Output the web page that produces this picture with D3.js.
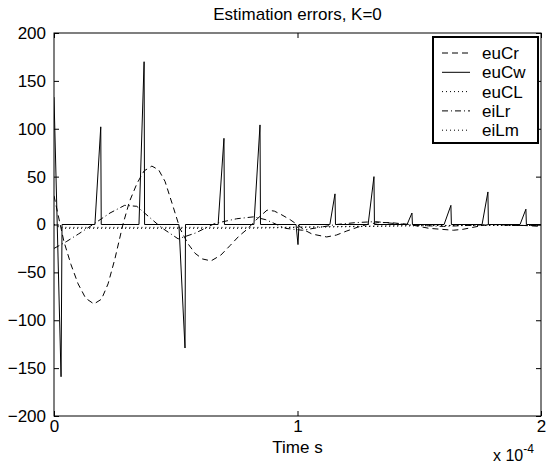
<!DOCTYPE html>
<html><head><meta charset="utf-8">
<script src="https://cdn.jsdelivr.net/npm/d3@7"></script>
<style>body{margin:0;background:#fff}svg{display:block}text{font-family:"Liberation Sans",Arial,sans-serif;fill:#000}</style>
</head><body><svg id="c" width="557" height="466"></svg>
<script>
// time values are in units of 1e-5 s
const xTicks = [0, 1, 2];               // displayed as x 10^-4
const yTicks = [-200,-150,-100,-50,0,50,100,150,200];
const seriesNames = ["euCr","euCw","euCL","eiLr","eiLm"];

const tCr  = [0,0.16,0.41,0.7,0.99,1.3,1.64,1.95,2.22,2.5,2.83,3.1,3.41,3.7,4.02,4.3,4.56,4.85,5.17,5.5,5.79,6.1,6.45,6.85,7.23,7.6,7.93,8.35,8.75,9.05,9.36,9.7,9.98,10.3,10.6,11.2,11.6,12.0,12.45,12.85,13.3,13.8,14.2,14.6,15.0,15.4,15.9,16.4,16.8,17.2,17.6,17.9,18.3,18.7,19.3,20];
const euCr = [30,11,-18,-42,-62,-77,-83,-78,-62,-36,0,24,43,56,61,57,45,22,-4,-20,-30,-36,-38,-32,-22,-12,-5,6,15,14,10,5,0,-6,-10,-13,-11,-7,-3,0,2,2,1,0,-2,-4,-5,-6,-5,-3,-1,0,0,-1,-1,-2];

const tCw  = [0,0.29,0.33,1.68,1.92,1.94,3.49,3.70,3.72,5.13,5.38,5.40,6.74,6.98,7.0,8.21,8.46,8.48,9.94,10.02,10.06,11.33,11.54,11.56,12.9,13.14,13.16,14.5,14.7,14.72,16.02,16.3,16.32,17.58,17.82,17.84,19.14,19.38,19.4,20];
const euCw = [133,-159,0,0,102,0,0,170,0,0,-129,0,0,90,0,0,104,0,0,-21,0,0,32,0,0,50,0,0,12,0,0,20,0,0,34,0,0,16,0,0];

const tCL  = [0,0.3,4,8,10,13,16,20];
const euCL = [0,-4,-4,-4,-3,-2,-1,-1];

const tLr  = [0,0.5,1.0,1.6,2.3,2.9,3.4,3.9,4.4,5.1,5.8,6.6,7.5,8.2,8.7,9.5,10.2,10.9,11.6,12.4,13.2,14.0,15.0,16.0,17.0,18.0,19.0,20];
const eiLr = [-25,-18,-10,0,12,20,19,8,-3,-15,-9,1,6,8,5,-4,-6,-3,0,2,3,1,-1,-2,-1,0,-1,-1];

const tLm  = [0,0.3,5,9,12,15,18,20];
const eiLm = [0,-3,-3,-3,-2,-1,-1,-1];

const L=54, R=541, T=33, B=416;
const FS = 17;
const svg = d3.select("#c");
const x = d3.scaleLinear().domain([0,20]).range([L,R]);
const y = d3.scaleLinear().domain([-200,200]).range([B,T]);

const styles = {
  euCr:"6,4", euCw:null, euCL:"1,3", eiLr:"6,3,1,3", eiLm:"1,3"
};
const data = {
  euCr: d3.zip(tCr, euCr), euCw: d3.zip(tCw, euCw), euCL: d3.zip(tCL, euCL),
  eiLr: d3.zip(tLr, eiLr), eiLm: d3.zip(tLm, eiLm)
};

svg.append("clipPath").attr("id","clip").append("rect").attr("x",L).attr("y",T).attr("width",R-L).attr("height",B-T);
const line = d3.line().x(d=>x(d[0])).y(d=>y(d[1]));
const g = svg.append("g").attr("clip-path","url(#clip)");
seriesNames.forEach(n=>{
  g.append("path").attr("d",line(data[n])).attr("fill","none").attr("stroke","#000")
   .attr("stroke-width",1).attr("stroke-dasharray",styles[n]);
});

// axes
const axB = d3.axisBottom(x).tickValues(xTicks.map(v=>v*10)).tickSize(-5).tickPadding(4).tickFormat((d,i)=>xTicks[i]);
const axL = d3.axisLeft(y).tickValues(yTicks).tickSize(-5).tickPadding(8);
const axT = d3.axisTop(x).tickValues(xTicks.map(v=>v*10)).tickSize(-5).tickFormat("");
const axR = d3.axisRight(y).tickValues(yTicks).tickSize(-5).tickFormat("");
function st(s){ s.selectAll(".domain").remove(); s.selectAll("line").attr("stroke","#000"); s.selectAll("text").attr("font-size",FS).attr("font-family","Liberation Sans, Arial, sans-serif"); }
svg.append("g").attr("transform",`translate(0,${B})`).call(axB).call(st);
svg.append("g").attr("transform",`translate(${L},0)`).call(axL).call(st);
svg.append("g").attr("transform",`translate(0,${T})`).call(axT).call(st);
svg.append("g").attr("transform",`translate(${R},0)`).call(axR).call(st);
svg.append("rect").attr("x",L).attr("y",T).attr("width",R-L).attr("height",B-T).attr("fill","none").attr("stroke","#000").attr("stroke-width",1);

svg.append("text").attr("x",(L+R)/2).attr("y",20).attr("text-anchor","middle").attr("font-size",FS).text("Estimation errors, K=0");
svg.append("text").attr("x",(L+R)/2).attr("y",453).attr("text-anchor","middle").attr("font-size",FS).text("Time s");
const ex = svg.append("text").attr("x",493).attr("y",461).attr("font-size",16);
ex.append("tspan").text("x 10");
ex.append("tspan").attr("dy",-8).attr("font-size",12).text("-4");

// legend
const lg = svg.append("g");
lg.append("rect").attr("x",433).attr("y",37).attr("width",105).attr("height",106).attr("fill","#fff").attr("stroke","#000").attr("stroke-width",2);
seriesNames.forEach((n,i)=>{
  const yy = 53 + i*19.3;
  lg.append("line").attr("x1",442).attr("x2",470).attr("y1",yy).attr("y2",yy).attr("stroke","#000").attr("stroke-dasharray",styles[n]);
  lg.append("text").attr("x",482).attr("y",yy+6).attr("font-size",FS).text(n);
});
</script></body></html>
